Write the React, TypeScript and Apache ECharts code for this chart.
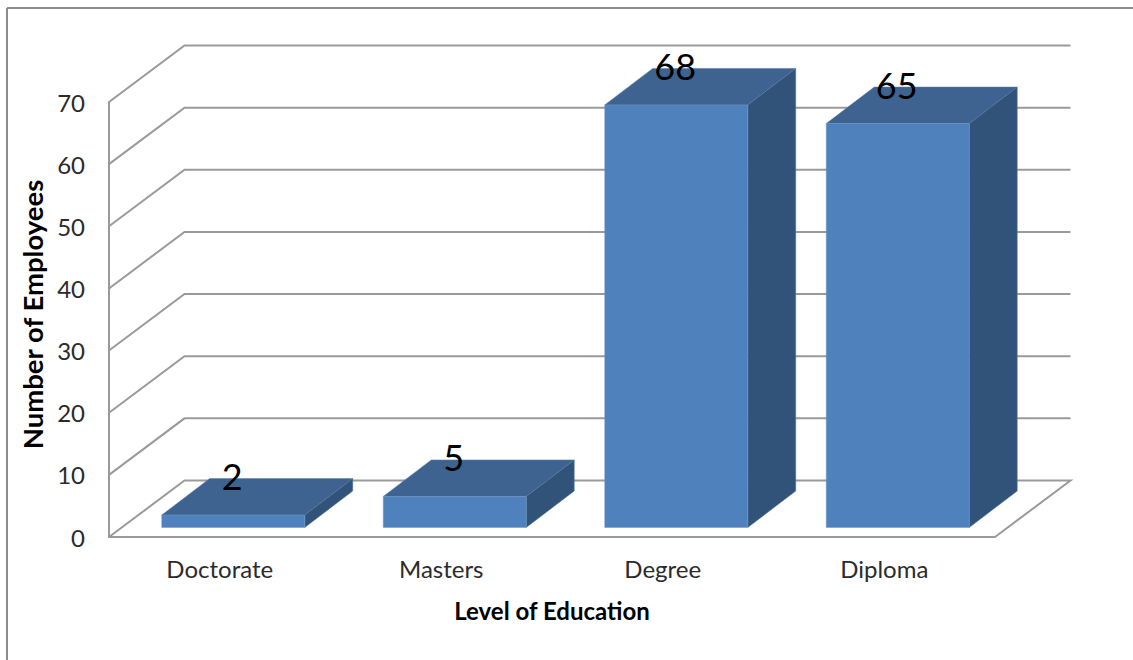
import React, { useEffect, useRef } from "react";
import * as echarts from "echarts";

const categories = ["Doctorate", "Masters", "Degree", "Diploma"];
const employees = [2, 5, 68, 65];
const yTicks = [0, 10, 20, 30, 40, 50, 60, 70];

const FONT = "Lato, 'Open Sans', sans-serif";
const GRID_COLOR = "#9a9a9a";
const TEXT_COLOR = "#2b2b2b";

// Oblique projection used for the 3D look, in pixels.
const WALL_DX = 75.5;
const WALL_DY = -56.5;
const BAR_INSET_X = 13.5;
const BAR_INSET_Y = -9.5;
const BAR_WIDTH = 143;
const BAR_DX = 48;
const BAR_DY = -36.5;

export default function App() {
  const ref = useRef<HTMLDivElement>(null);

  useEffect(() => {
    const chart = echarts.init(ref.current!, undefined, { renderer: "svg" });

    const renderWall = (params: any, api: any) => {
      const cs = params.coordSys;
      const y = api.coord([0, api.value(1)])[1];
      const left = cs.x;
      const right = cs.x + cs.width;
      const points: number[][] = [
        [left, y],
        [left + WALL_DX, y + WALL_DY],
        [right + WALL_DX, y + WALL_DY],
      ];
      if (api.value(1) === 0) points.push([right, y]);
      return {
        type: "polyline",
        shape: { points },
        style: { fill: "none", stroke: GRID_COLOR, lineWidth: 2 },
      };
    };

    const renderBar = (_params: any, api: any) => {
      const [cx, y0] = api.coord([api.value(0), 0]);
      const top = api.coord([api.value(0), api.value(1)])[1] + BAR_INSET_Y;
      const bottom = y0 + BAR_INSET_Y;
      const l = cx + BAR_INSET_X - BAR_WIDTH / 2;
      const r = l + BAR_WIDTH;
      return {
        type: "group",
        children: [
          {
            type: "polygon",
            shape: { points: [[l, top], [l + BAR_DX, top + BAR_DY], [r + BAR_DX, top + BAR_DY], [r, top]] },
            style: { fill: "#3e6391", stroke: "#5578a3", lineWidth: 0.5 },
          },
          {
            type: "polygon",
            shape: { points: [[r, top], [r + BAR_DX, top + BAR_DY], [r + BAR_DX, bottom + BAR_DY], [r, bottom]] },
            style: { fill: "#325379", stroke: "#5578a3", lineWidth: 0.5 },
          },
          {
            type: "rect",
            shape: { x: l, y: top, width: BAR_WIDTH, height: bottom - top },
            style: { fill: "#4f81bd", stroke: "#6f97c8", lineWidth: 0.5 },
          },
          {
            type: "text",
            style: {
              x: cx + 12.5,
              y: top - 39,
              text: String(api.value(1)),
              fill: "#000000",
              font: `400 36px ${FONT}`,
              textAlign: "center",
              textVerticalAlign: "middle",
            },
          },
        ],
      };
    };

    chart.setOption({
      animation: false,
      backgroundColor: "#ffffff",
      textStyle: { fontFamily: FONT },
      graphic: [
        { type: "line", shape: { x1: 7, y1: 8, x2: 1133, y2: 8 }, style: { stroke: "#8c8c8c", lineWidth: 2 } },
        { type: "line", shape: { x1: 7, y1: 8, x2: 7, y2: 660 }, style: { stroke: "#8c8c8c", lineWidth: 2 } },
      ],
      grid: { left: 109, right: 138, top: 102, bottom: 123 },
      xAxis: {
        type: "category",
        data: categories,
        axisTick: { show: false },
        axisLine: { lineStyle: { color: GRID_COLOR, width: 2 } },
        axisLabel: { color: TEXT_COLOR, fontFamily: FONT, fontSize: 24, margin: 19 },
        name: "Level of Education",
        nameLocation: "middle",
        nameGap: 61,
        nameTextStyle: { color: "#000000", fontFamily: FONT, fontSize: 24, fontWeight: "bold" },
      },
      yAxis: {
        type: "value",
        min: 0,
        max: 70,
        interval: 10,
        splitLine: { show: false },
        axisTick: { show: false },
        axisLine: { show: true, lineStyle: { color: GRID_COLOR, width: 2 } },
        axisLabel: { color: TEXT_COLOR, fontFamily: FONT, fontSize: 24, margin: 24 },
        name: "Number of Employees",
        nameLocation: "middle",
        nameRotate: 90,
        nameGap: 63,
        nameTextStyle: { color: "#000000", fontFamily: FONT, fontSize: 27.5, fontWeight: "bold", padding: [0, 0, 0, 10] },
      },
      series: [
        {
          type: "custom",
          silent: true,
          clip: false,
          z: 1,
          renderItem: renderWall,
          data: yTicks.map((t) => [0, t]),
          encode: { x: 0, y: 1 },
        },
        {
          type: "custom",
          silent: true,
          clip: false,
          z: 2,
          renderItem: renderBar,
          data: employees.map((v, i) => [i, v]),
          encode: { x: 0, y: 1 },
        },
      ],
    });

    return () => chart.dispose();
  }, []);

  return <div ref={ref} style={{ position: "fixed", left: 0, top: 0, width: 1133, height: 660 }} />;
}
